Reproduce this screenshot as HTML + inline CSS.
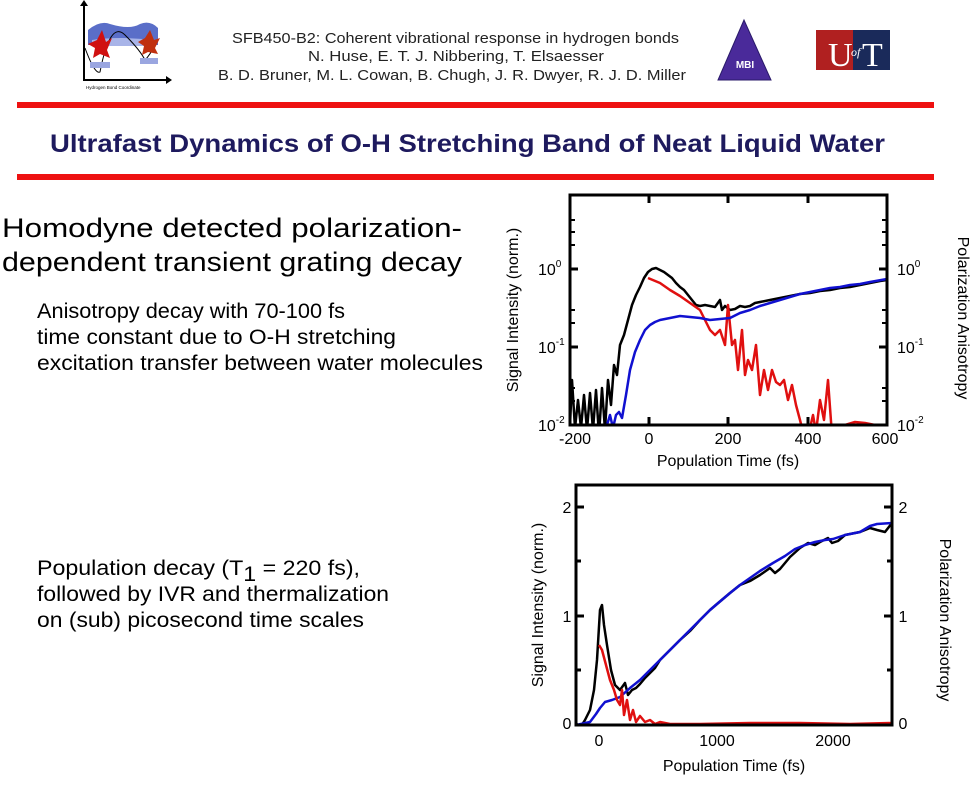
<!DOCTYPE html>
<html><head><meta charset="utf-8"><style>
body{margin:0;background:#fff}
svg{display:block;font-family:"Liberation Sans",Arial,sans-serif}
</style></head><body>
<svg width="977" height="800" viewBox="0 0 977 800" xmlns="http://www.w3.org/2000/svg">
<rect width="977" height="800" fill="#fff"/>
<g>
<path d="M88 30 Q100 20 110 24 Q130 30 140 24 Q150 20 158 28 L158 45 L88 45Z" fill="#5a6ec8"/>
<path d="M92 40 Q120 36 150 40 L150 46 L92 46Z" fill="#a8b4e8"/>
<path d="M85 48 Q95 75 100 72 Q110 20 125 35 Q140 50 145 60 Q150 55 155 45" fill="none" stroke="#000"/>
<polygon points="97,40 102,30 106,42 112,38 107,50 110,58 100,54 93,58 95,48 88,44" fill="#d01010"/>
<polygon points="145,38 150,30 154,40 160,38 155,48 158,54 148,52 142,55 144,46 138,42" fill="#c03010"/>
<rect x="90" y="62" width="20" height="6" fill="#9aa6e0"/>
<rect x="140" y="58" width="18" height="6" fill="#9aa6e0"/>
<path d="M84 4 L84 80 L168 80" fill="none" stroke="#000" stroke-width="2"/>
<polygon points="80,6 84,0 88,6" fill="#000"/><polygon points="166,76 172,80 166,84" fill="#000"/>
<text x="86" y="89" font-size="4.5">Hydrogen Bond Coordinate</text>
</g>
<g font-size="15" fill="#222" lengthAdjust="spacingAndGlyphs">
<text x="232" y="43" textLength="447" lengthAdjust="spacingAndGlyphs">SFB450-B2: Coherent vibrational response in hydrogen bonds</text>
<text x="308" y="61" textLength="296" lengthAdjust="spacingAndGlyphs">N. Huse, E. T. J. Nibbering, T. Elsaesser</text>
<text x="218" y="80" textLength="468" lengthAdjust="spacingAndGlyphs">B. D. Bruner, M. L. Cowan, B. Chugh, J. R. Dwyer, R. J. D. Miller</text>
</g>
<polygon points="744,20 718,80 771,80" fill="#4a2a9a" stroke="#2a1a6a"/>
<text x="745" y="68" font-size="10" font-weight="bold" fill="#fff" text-anchor="middle">MBI</text>
<rect x="816" y="30" width="37" height="40" fill="#b02020"/>
<rect x="853" y="30" width="37" height="40" fill="#1a2a5a"/>
<text x="828" y="66" font-size="34" font-family="Liberation Serif,serif" fill="#fff">U</text>
<text x="851" y="56" font-size="12" font-style="italic" font-family="Liberation Serif,serif" fill="#fff">of</text>
<text x="862" y="66" font-size="34" font-family="Liberation Serif,serif" fill="#fff">T</text>
<rect x="17" y="102" width="917" height="6" fill="#ee1111"/>
<rect x="17" y="174" width="917" height="6" fill="#ee1111"/>
<text x="50" y="152" font-size="25" font-weight="bold" fill="#1e1a5e" textLength="835" lengthAdjust="spacingAndGlyphs">Ultrafast Dynamics of O-H Stretching Band of Neat Liquid Water</text>
<g fill="#000">
<text x="2" y="237" font-size="27" textLength="460" lengthAdjust="spacingAndGlyphs">Homodyne detected polarization-</text>
<text x="2" y="271" font-size="27" textLength="460" lengthAdjust="spacingAndGlyphs">dependent transient grating decay</text>
<g font-size="21">
<text x="37" y="318" textLength="308" lengthAdjust="spacingAndGlyphs">Anisotropy decay  with 70-100 fs</text>
<text x="37" y="344" textLength="359" lengthAdjust="spacingAndGlyphs">time constant due to O-H stretching</text>
<text x="37" y="370" textLength="446" lengthAdjust="spacingAndGlyphs">excitation transfer between water molecules</text>
<text x="37" y="575" textLength="323" lengthAdjust="spacingAndGlyphs">Population decay (T<tspan dy="6">1</tspan><tspan dy="-6"> = 220 fs),</tspan></text>
<text x="37" y="601" textLength="352" lengthAdjust="spacingAndGlyphs">followed by IVR and thermalization</text>
<text x="37" y="627" textLength="327" lengthAdjust="spacingAndGlyphs">on (sub) picosecond time scales</text>
</g>
</g>
<defs><clipPath id="c1"><rect x="570" y="195" width="317" height="230"/></clipPath>
<clipPath id="c2"><rect x="576" y="485" width="316" height="240"/></clipPath></defs>
<g clip-path="url(#c1)" fill="none" stroke-width="2.5" stroke-linejoin="round">
<polyline stroke="#000" points="570,425 572,380 575,428 578,400 581,428 584,395 587,430 590,393 593,430 596,390 599,435 602,388 605,430 608,380 611,405 614,365 617,375 620,345 624,335 628,320 632,305 636,295 640,287 644,278 648,272 652,269 656,268 660,270 664,272 668,275 672,278 676,283 680,287 684,290 688,295 692,300 696,305 700,306 705,305 710,306 715,307 720,300 722,310 725,306 730,310 735,309 740,306 745,307 750,306 755,303 760,302 770,300 780,298 790,296 800,294 810,293 820,291 830,290 840,288 850,287 860,285 870,283 880,281 887,280"/>
<polyline stroke="#e01010" points="648,278 660,283 670,290 680,296 690,303 700,310 705,320 710,330 715,335 720,330 725,345 728,305 732,345 735,340 738,370 742,330 745,375 748,360 752,370 756,345 760,395 764,370 768,390 772,370 776,382 780,385 784,380 788,400 792,385 796,405 800,420 803,432 806,425 810,428 813,415 816,432 820,400 824,420 828,380 832,435 838,425 845,425 855,422 865,423 875,425 887,425"/>
<polyline stroke="#1010d0" points="607,425 610,415 613,428 616,415 619,412 622,418 626,395 630,370 635,352 640,340 645,330 650,325 655,322 660,320 670,318 680,316 690,317 700,318 710,320 720,319 730,318 740,313 750,310 760,306 770,303 780,300 790,297 800,294 810,292 820,290 830,288 840,287 850,285 860,284 870,282 887,279"/>
</g>
<rect x="570" y="195" width="317" height="230" fill="none" stroke="#000" stroke-width="3"/>
<g stroke="#000" stroke-width="3">
<line x1="570" y1="269" x2="578" y2="269"/><line x1="570" y1="347" x2="578" y2="347"/>
<line x1="879" y1="269" x2="887" y2="269"/><line x1="879" y1="347" x2="887" y2="347"/>
<line x1="649" y1="425" x2="649" y2="417"/><line x1="728" y1="425" x2="728" y2="417"/><line x1="808" y1="425" x2="808" y2="417"/>
<line x1="649" y1="195" x2="649" y2="203"/><line x1="728" y1="195" x2="728" y2="203"/><line x1="808" y1="195" x2="808" y2="203"/>
</g>
<g stroke="#000" stroke-width="2">
<line x1="570" y1="245" x2="575" y2="245"/><line x1="570" y1="232" x2="575" y2="232"/><line x1="570" y1="323" x2="575" y2="323"/><line x1="570" y1="310" x2="575" y2="310"/><line x1="570" y1="401" x2="575" y2="401"/><line x1="570" y1="388" x2="575" y2="388"/><line x1="570" y1="220" x2="575" y2="220"/>
<line x1="882" y1="245" x2="887" y2="245"/><line x1="882" y1="232" x2="887" y2="232"/><line x1="882" y1="323" x2="887" y2="323"/><line x1="882" y1="310" x2="887" y2="310"/><line x1="882" y1="401" x2="887" y2="401"/><line x1="882" y1="388" x2="887" y2="388"/><line x1="882" y1="220" x2="887" y2="220"/>
</g>
<g font-size="16" fill="#000">
<text x="538" y="275">10<tspan font-size="10" dy="-8">0</tspan></text>
<text x="538" y="353">10<tspan font-size="10" dy="-8">-1</tspan></text>
<text x="538" y="431">10<tspan font-size="10" dy="-8">-2</tspan></text>
<text x="897" y="275">10<tspan font-size="10" dy="-8">0</tspan></text>
<text x="897" y="353">10<tspan font-size="10" dy="-8">-1</tspan></text>
<text x="897" y="431">10<tspan font-size="10" dy="-8">-2</tspan></text>
</g>
<g font-size="16" text-anchor="middle">
<text x="575" y="444">-200</text><text x="649" y="444">0</text><text x="728" y="444">200</text><text x="808" y="444">400</text><text x="885" y="444">600</text>
<text x="728" y="466">Population Time (fs)</text>
<text transform="translate(518,310) rotate(-90)">Signal Intensity (norm.)</text>
<text transform="translate(958,318) rotate(90)">Polarization Anisotropy</text>
</g>
<g clip-path="url(#c2)" fill="none" stroke-width="2.5" stroke-linejoin="round">
<polyline stroke="#000" points="576,723 580,728 585,720 590,710 594,690 597,660 600,610 602,605 604,625 607,645 611,670 615,685 620,690 625,683 628,695 632,690 636,688 640,684 645,678 650,673 655,668 660,660 670,650 680,640 690,631 700,620 710,610 717,604 730,593 740,585 750,581 760,575 770,568 775,573 780,569 790,557 800,548 808,543 815,545 820,542 828,538 832,543 838,541 845,535 860,532 870,528 877,530 885,532 892,523"/>
<polyline stroke="#1010d0" points="576,725 590,722 596,714 600,708 605,702 612,700 620,697 630,688 640,680 650,670 660,660 670,650 680,640 690,630 700,620 710,610 717,604 730,593 740,585 750,578 760,571 773,563 785,556 795,549 805,545 815,542 825,540 833,539 845,535 860,532 870,526 877,524 892,523"/>
<polyline stroke="#e01010" points="599,645 602,650 606,665 610,680 614,690 617,700 620,705 622,690 624,715 627,700 630,720 633,710 636,722 640,716 645,722 650,720 655,724 660,722 670,724 700,724 750,723 800,723 850,724 892,723"/>
</g>
<rect x="576" y="485" width="316" height="240" fill="none" stroke="#000" stroke-width="3"/>
<g stroke="#000" stroke-width="3">
<line x1="576" y1="507" x2="584" y2="507"/><line x1="576" y1="616" x2="584" y2="616"/><line x1="576" y1="561" x2="581" y2="561"/><line x1="576" y1="670" x2="581" y2="670"/>
<line x1="884" y1="507" x2="892" y2="507"/><line x1="884" y1="616" x2="892" y2="616"/><line x1="887" y1="561" x2="892" y2="561"/><line x1="887" y1="670" x2="892" y2="670"/>
</g>
<g font-size="16" text-anchor="middle">
<text x="567" y="513">2</text><text x="567" y="622">1</text><text x="567" y="729">0</text>
<text x="903" y="513">2</text><text x="903" y="622">1</text><text x="903" y="729">0</text>
<text x="599" y="746">0</text><text x="717" y="746">1000</text><text x="833" y="746">2000</text>
<text x="734" y="771">Population Time (fs)</text>
<text transform="translate(543,605) rotate(-90)">Signal Intensity (norm.)</text>
<text transform="translate(940,620) rotate(90)">Polarization Anisotropy</text>
</g>
</svg>
</body></html>
